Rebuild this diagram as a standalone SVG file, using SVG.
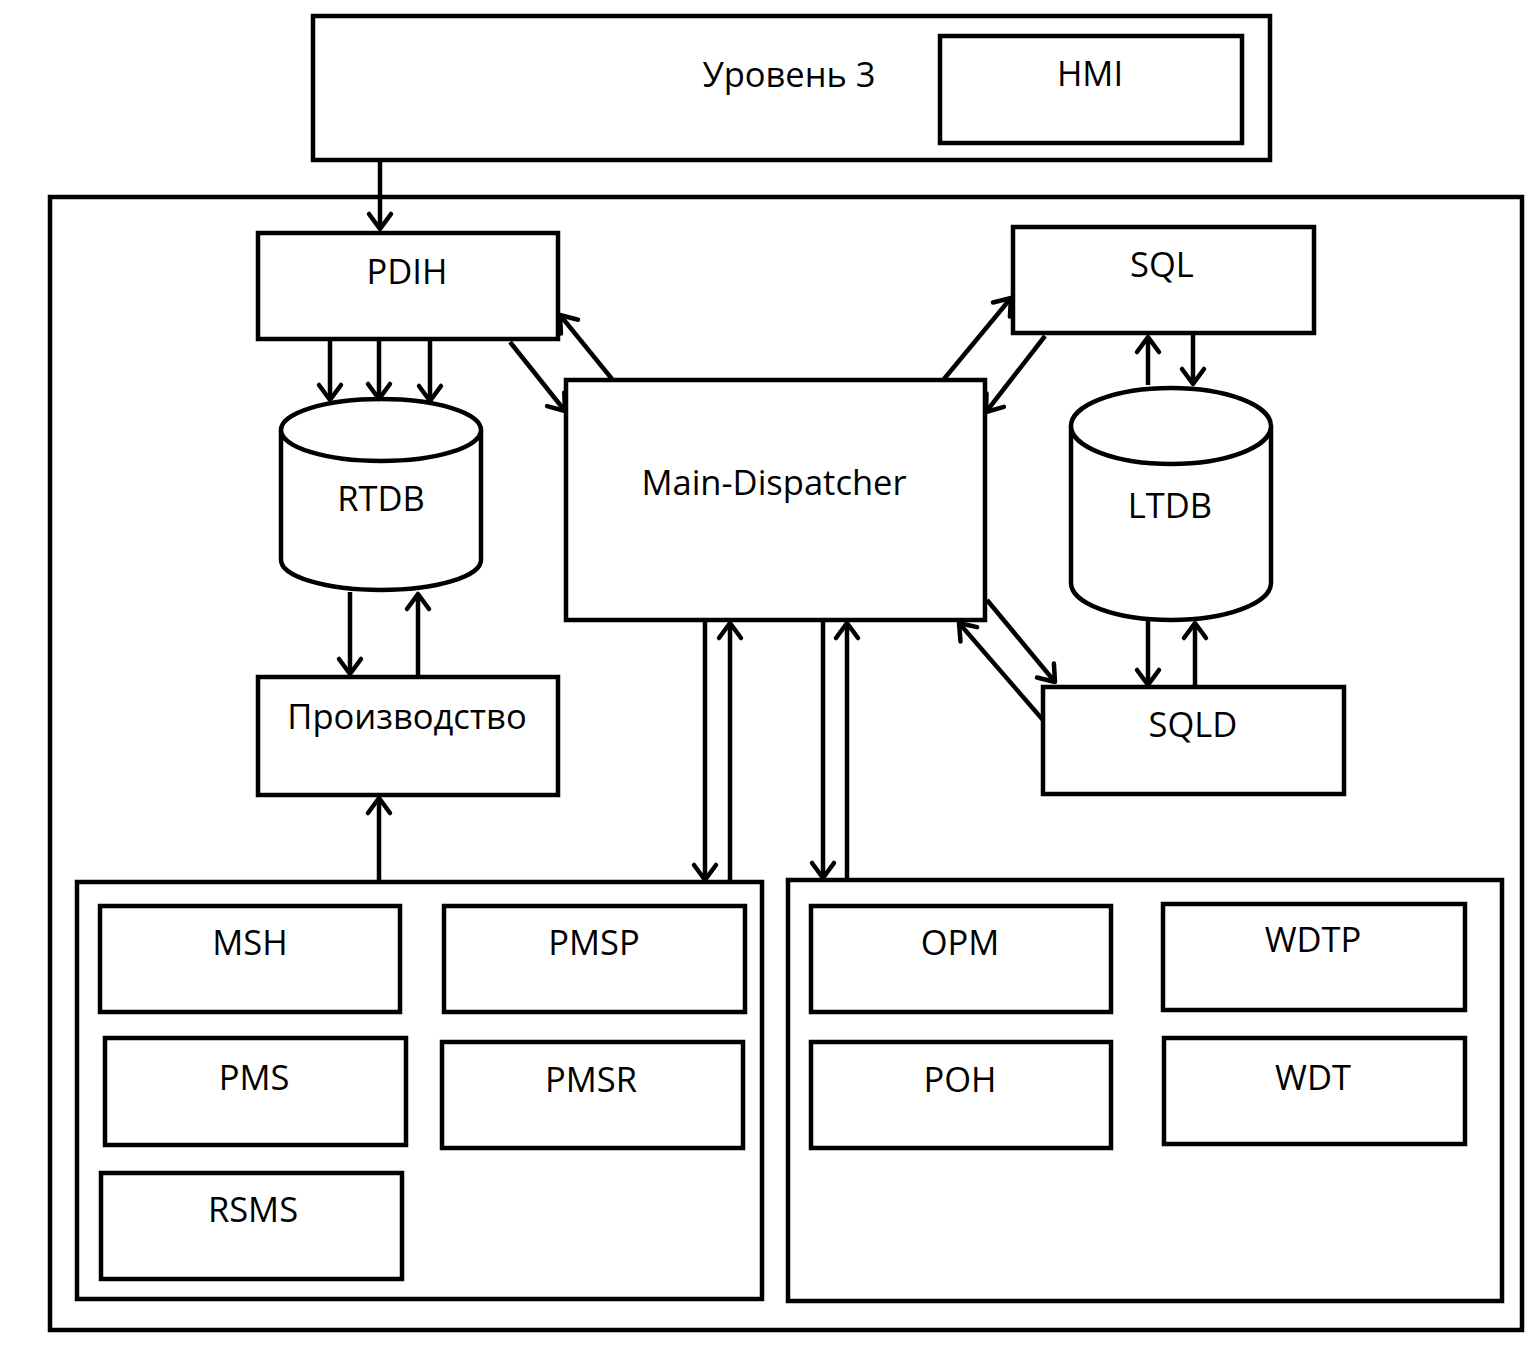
<svg xmlns="http://www.w3.org/2000/svg" width="1540" height="1350" viewBox="0 0 1540 1350">
<style>
.box{fill:#fff;stroke:#000;stroke-width:4.5}
.cont{fill:none;stroke:#000;stroke-width:4.5}
.lbl{font-family:"Open Sans","Noto Sans","DejaVu Sans",sans-serif;font-size:34.5px;fill:#000;text-anchor:middle}
.arr{stroke:#000;stroke-width:4.5;fill:none;marker-end:url(#ah)}
</style>
<defs>
<marker id="ah" markerUnits="userSpaceOnUse" markerWidth="40" markerHeight="40" viewBox="-20 -20 40 40" refX="0" refY="0" orient="auto">
<path d="M-15,-11 L0,0 L-15,11" fill="none" stroke="#000" stroke-width="4.5" stroke-linecap="round" stroke-linejoin="round"/>
</marker>
</defs>
<rect width="1540" height="1350" fill="#fff"/>

<g id="level3">
<rect class="box" x="313" y="16" width="957" height="144"/>
<text class="lbl" x="789" y="87">Уровень 3</text>
</g>
<g id="hmi">
<rect class="box" x="940" y="36" width="302" height="107"/>
<text class="lbl" x="1090" y="86">HMI</text>
</g>

<g id="outer">
<rect class="cont" x="50" y="197" width="1472" height="1133"/>
</g>

<g id="pdih">
<rect class="box" x="258" y="233" width="300" height="106"/>
<text class="lbl" x="407" y="284">PDIH</text>
</g>

<g id="rtdb">
<path class="box" d="M281,430 L281,560 A100,30 0 0 0 481,560 L481,430"/>
<ellipse class="box" cx="381" cy="430" rx="100" ry="31"/>
<text class="lbl" x="381" y="511">RTDB</text>
</g>

<g id="proizvodstvo">
<rect class="box" x="258" y="677" width="300" height="118"/>
<text class="lbl" x="407" y="729">Производство</text>
</g>

<g id="main-dispatcher">
<rect class="box" x="566" y="380" width="419" height="240"/>
<text class="lbl" x="774" y="495">Main-Dispatcher</text>
</g>

<g id="sql">
<rect class="box" x="1013" y="227" width="301" height="106"/>
<text class="lbl" x="1162" y="277">SQL</text>
</g>

<g id="ltdb">
<path class="box" d="M1071,426 L1071,583 A100,37 0 0 0 1271,583 L1271,426"/>
<ellipse class="box" cx="1171" cy="426" rx="100" ry="38"/>
<text class="lbl" x="1170" y="518">LTDB</text>
</g>

<g id="sqld">
<rect class="box" x="1043" y="687" width="301" height="107"/>
<text class="lbl" x="1193" y="737">SQLD</text>
</g>

<g id="group-left">
<rect class="cont" x="77" y="882" width="685" height="417"/>
</g>
<g id="msh">
<rect class="box" x="100" y="906" width="300" height="106"/>
<text class="lbl" x="250" y="955">MSH</text>
</g>
<g id="pmsp">
<rect class="box" x="444" y="906" width="301" height="106"/>
<text class="lbl" x="594" y="955">PMSP</text>
</g>
<g id="pms">
<rect class="box" x="105" y="1038" width="301" height="107"/>
<text class="lbl" x="254" y="1090">PMS</text>
</g>
<g id="pmsr">
<rect class="box" x="442" y="1042" width="301" height="106"/>
<text class="lbl" x="591" y="1092">PMSR</text>
</g>
<g id="rsms">
<rect class="box" x="101" y="1173" width="301" height="106"/>
<text class="lbl" x="253" y="1222">RSMS</text>
</g>

<g id="group-right">
<rect class="cont" x="788" y="880" width="714" height="421"/>
</g>
<g id="opm">
<rect class="box" x="811" y="906" width="300" height="106"/>
<text class="lbl" x="960" y="955">OPM</text>
</g>
<g id="wdtp">
<rect class="box" x="1163" y="904" width="302" height="106"/>
<text class="lbl" x="1313" y="952">WDTP</text>
</g>
<g id="poh">
<rect class="box" x="811" y="1042" width="300" height="106"/>
<text class="lbl" x="960" y="1092">POH</text>
</g>
<g id="wdt">
<rect class="box" x="1164" y="1038" width="301" height="106"/>
<text class="lbl" x="1313" y="1090">WDT</text>
</g>

<g id="connectors">
<line class="arr" x1="380" y1="160" x2="380" y2="229"/>
<line class="arr" x1="330" y1="339" x2="330" y2="400"/>
<line class="arr" x1="379" y1="339" x2="379" y2="399"/>
<line class="arr" x1="430" y1="339" x2="430" y2="401"/>
<line class="arr" x1="350" y1="592" x2="350" y2="674"/>
<line class="arr" x1="418" y1="677" x2="418" y2="594"/>
<line class="arr" x1="379" y1="882" x2="379" y2="798"/>
<line class="arr" x1="510" y1="342" x2="565" y2="411"/>
<line class="arr" x1="612" y1="379" x2="560" y2="315"/>
<line class="arr" x1="944" y1="379" x2="1011" y2="298"/>
<line class="arr" x1="1045" y1="336" x2="986" y2="412"/>
<line class="arr" x1="1148" y1="385" x2="1148" y2="337"/>
<line class="arr" x1="1193" y1="335" x2="1193" y2="384"/>
<line class="arr" x1="1148" y1="620" x2="1148" y2="685"/>
<line class="arr" x1="1195" y1="687" x2="1195" y2="623"/>
<line class="arr" x1="987" y1="600" x2="1055" y2="682"/>
<line class="arr" x1="1043" y1="720" x2="959" y2="623"/>
<line class="arr" x1="705" y1="620" x2="705" y2="880"/>
<line class="arr" x1="730" y1="880" x2="730" y2="623"/>
<line class="arr" x1="823" y1="620" x2="823" y2="878"/>
<line class="arr" x1="847" y1="880" x2="847" y2="623"/>
</g>
</svg>
